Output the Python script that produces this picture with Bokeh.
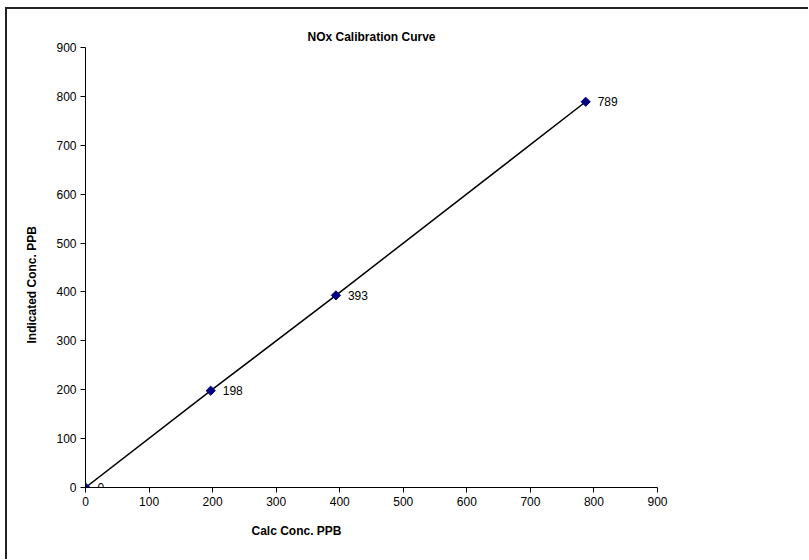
from bokeh.plotting import figure
from bokeh.models import Range1d, Title, ColumnDataSource, FixedTicker
from bokeh.core.properties import value
from bokeh.embed import file_html
from bokeh.resources import INLINE

calc_conc = [0, 197, 394, 787]
indicated_conc = [0, 198, 393, 789]
point_labels = ["0", "198", "393", "789"]
ticks = [0, 100, 200, 300, 400, 500, 600, 700, 800, 900]

FONT = "Liberation Sans"

p = figure(
    output_backend="svg", toolbar_location=None,
    width=801, height=550,
    frame_width=572, frame_height=440,
    min_border_left=78, min_border_top=38, min_border_right=151, min_border_bottom=72,
    x_range=Range1d(0, 900), y_range=Range1d(0, 900),
    title="NOx Calibration Curve",
)
p.styles = {"border-top": "2px solid #222", "border-left": "2px solid #222",
            "margin-left": "5px", "margin-top": "7px"}
p.outline_line_color = None
p.background_fill_color = "white"
p.border_fill_color = "white"
p.grid.visible = False

p.title.align = "center"
p.title.text_font = FONT
p.title.text_font_size = "12px"
p.title.text_font_style = "bold"
p.title.text_color = "black"
p.title.standoff = 7

for ax in (p.xaxis[0], p.yaxis[0]):
    ax.ticker = FixedTicker(ticks=ticks)
    ax.major_label_text_font = FONT
    ax.major_label_text_font_size = "12px"
    ax.major_label_text_color = "black"
    ax.axis_line_color = "black"
    ax.major_tick_line_color = "black"
    ax.major_tick_out = 5
    ax.major_tick_in = 0
    ax.minor_tick_line_color = None
    ax.major_label_standoff = 4

src = ColumnDataSource(dict(x=calc_conc, y=indicated_conc, t=point_labels))
p.line("x", "y", source=src, line_color="black", line_width=1.5)
p.scatter("x", "y", source=src, marker="square", angle=0.7854, size=6.5,
          fill_color="#000080", line_color="#000080")
p.text("x", "y", text="t", source=src, x_offset=12, y_offset=0,
       text_font=value(FONT), text_font_size="12px", text_color="black",
       text_baseline="middle", text_align="left")

xt = Title(text="Calc Conc. PPB", align="left", offset=166, standoff=26,
           text_font=FONT, text_font_size="12px", text_font_style="bold", text_color="black")
p.add_layout(xt, "below")
yt = Title(text="Indicated Conc. PPB", align="left", offset=144, standoff=29,
           text_font=FONT, text_font_size="12px", text_font_style="bold", text_color="black")
p.add_layout(yt, "left")

open("out.html", "w").write(file_html(p, INLINE))
